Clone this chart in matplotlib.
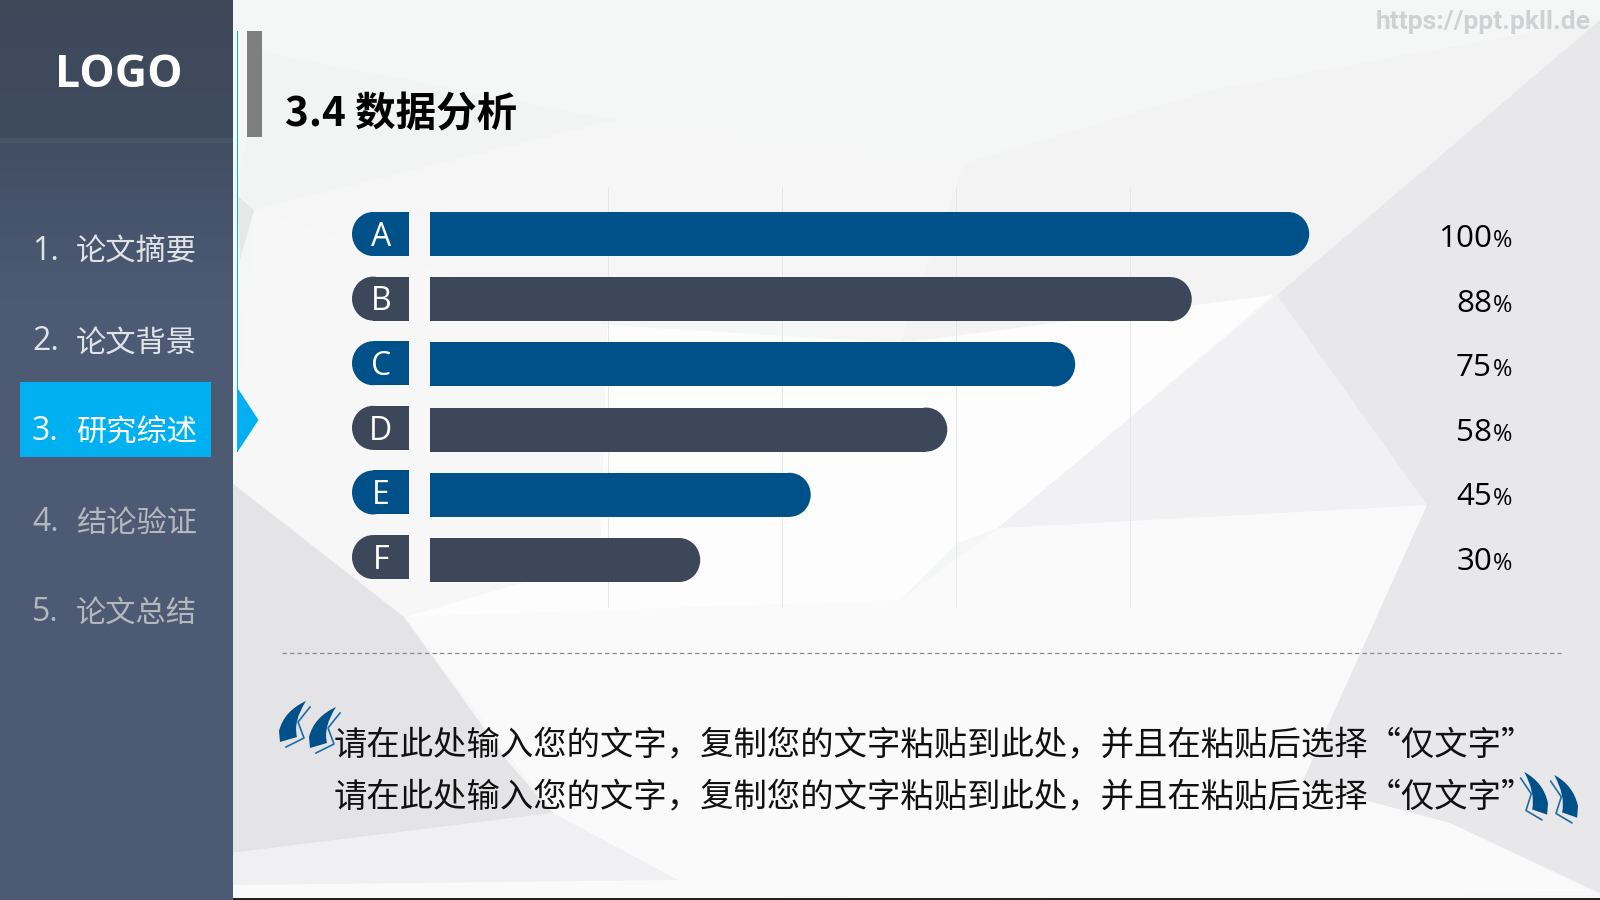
import numpy as np
import matplotlib
matplotlib.use('Agg')
import matplotlib.pyplot as plt
from matplotlib.patches import Ellipse, Polygon, Rectangle, PathPatch
from matplotlib.path import Path
from matplotlib.colors import LinearSegmentedColormap

plt.rcParams['font.family'] = ['Noto Sans CJK SC', 'DejaVu Sans']
LATIN = ['Open Sans', 'DejaVu Sans']

# ── DATA ────────────────────────────────────────────────────────────────
categories = ['A', 'B', 'C', 'D', 'E', 'F']
# printed labels, and the bar lengths as they are really drawn (they differ)
pct_labels = [100, 88, 75, 58, 45, 30]
bar_ends = [100.6, 87.1, 73.7, 59.0, 43.3, 30.6]
grid_ticks = [20, 40, 60, 80]

nav_numbers = ['1.', '2.', '3.', '4.', '5.']
nav_labels = ['论文摘要', '论文背景', '研究综述', '结论验证', '论文总结']
nav_colors = ['#dfe3e8', '#dfe3e8', '#ffffff', '#b4b8bc', '#b4b8bc']

title = '3.4 数据分析'
body_line = '请在此处输入您的文字，复制您的文字粘贴到此处，并且在粘贴后选择“仅文字”'

BLUE = '#005089'
DARK = '#3c4759'
CYAN = '#00b0f0'

fig = plt.figure(figsize=(16, 9), dpi=100, facecolor='#f5f6f6')

# ── BACKGROUND (pixel coordinates) ──────────────────────────────────────
bg = fig.add_axes([0, 0, 1, 1], zorder=0)
bg.axis('off')

facets = [
    ([(232, 0), (1600, 0), (1600, 900), (232, 900)], '#f5f6f6'),
    ([(263, 52), (616, 120), (254, 210), (237, 190)], '#f2f3f3'),
    ([(254, 210), (616, 120), (965, 163), (918, 340), (607, 325)], '#f6f6f7'),
    ([(965, 163), (1212, 90), (1600, 20), (1277, 295), (900, 343)], '#f3f3f4'),
    ([(607, 325), (900, 343), (1273, 295), (1092, 450), (998, 528), (958, 543),
      (900, 600), (607, 677), (404, 617), (600, 560)], '#fdfdfe'),
    ([(232, 483), (254, 210), (607, 325), (600, 560), (404, 617)], '#f7f7f8'),
    ([(404, 617), (900, 600), (998, 528), (1427, 505), (1302, 783), (1450, 823),
      (1600, 895), (232, 900), (232, 853), (553, 813)], '#fafafb'),
    ([(1277, 295), (1092, 450), (998, 528), (1427, 505)], '#f1f1f3'),
    ([(1600, 20), (1277, 295), (1427, 505), (1302, 783), (1450, 823), (1600, 893)], '#e8e8ea'),
    ([(232, 483), (404, 617), (509, 763), (553, 813), (232, 853)], '#e4e4e6'),
    ([(232, 853), (553, 813), (678, 880), (232, 885)], '#f0f0f2'),
    ([(237, 195), (254, 210), (240, 260)], '#e6e8e8'),
]
for pts, col in facets:
    bg.add_patch(Polygon(pts, closed=True, facecolor=col, edgecolor='none', zorder=1))

# sidebar gradients
side = LinearSegmentedColormap.from_list('side', ['#414e63', '#4c5a74'])
head = LinearSegmentedColormap.from_list('head', ['#3e4859', '#3f4b5f'])
ramp = np.linspace(0, 1, 100).reshape(-1, 1)
bg.imshow(ramp, extent=(0, 233, 300, 143), cmap=side, aspect='auto', zorder=2, origin='upper')
bg.add_patch(Rectangle((0, 300), 233, 600, facecolor='#4c5a74', edgecolor='none', zorder=2))
bg.imshow(ramp, extent=(0, 233, 138, 0), cmap=head, aspect='auto', zorder=2, origin='upper')
bg.add_patch(Rectangle((0, 138), 233, 5, facecolor='#48546a', edgecolor='none', zorder=3))
bg.set_xlim(0, 1600)
bg.set_ylim(900, 0)

bg.add_patch(Rectangle((20, 382), 191, 75, facecolor=CYAN, edgecolor='none', zorder=3))
bg.add_patch(Rectangle((237, 31), 1.2, 421, facecolor=CYAN, edgecolor='none', zorder=3))
bg.add_patch(Polygon([(237.5, 388), (258.5, 420), (237.5, 452)], facecolor=CYAN, edgecolor='none', zorder=3))
bg.add_patch(Rectangle((247, 31), 15, 106, facecolor='#7f7f7f', edgecolor='none', zorder=3))
bg.add_patch(Rectangle((233, 898), 1367, 2, facecolor='#222222', edgecolor='none', zorder=3))
bg.plot([282, 1561], [653, 653], color='#8a8a8a', lw=0.9, ls=(0, (3.5, 2.5)), zorder=3)

# ── BAR CHART ───────────────────────────────────────────────────────────
PX_PER_UNIT = 8.7
ZERO_PX = 434
ROW_PX = 65.2
ROW0_PX = 234
AX_L, AX_R, AX_T, AX_B = 345, 1400, 187, 608
BAR_H = 44 / ROW_PX
BAR_LEFT = (430 - ZERO_PX) / PX_PER_UNIT
R = 21 / PX_PER_UNIT

ax = fig.add_axes([AX_L / 1600, 1 - AX_B / 900, (AX_R - AX_L) / 1600, (AX_B - AX_T) / 900], zorder=2)
ax.patch.set_alpha(0)
ax.set_xlim((AX_L - ZERO_PX) / PX_PER_UNIT, (AX_R - ZERO_PX) / PX_PER_UNIT)
ax.set_ylim((AX_B - ROW0_PX) / ROW_PX, (AX_T - ROW0_PX) / ROW_PX)
ax.set_xticks(grid_ticks)
ax.set_yticks([])
ax.tick_params(length=0, labelbottom=False)
ax.grid(True, axis='x', color='#e6e7e9', lw=0.7)
ax.set_axisbelow(True)
for s in ax.spines.values():
    s.set_visible(False)

rows = np.arange(len(categories))
colors = [BLUE if i % 2 == 0 else DARK for i in rows]
ax.barh(rows, np.array(bar_ends) - R - BAR_LEFT, left=BAR_LEFT, height=BAR_H, color=colors, zorder=3)
for i, end in enumerate(bar_ends):
    ax.add_patch(Ellipse((end - R, i), 2 * R, BAR_H, facecolor=colors[i], edgecolor='none', zorder=3))

# letter pills sit a touch tighter than the bars
PILL_L = (352 - ZERO_PX) / PX_PER_UNIT
PILL_R = (409 - ZERO_PX) / PX_PER_UNIT
PILL_C = (381 - ZERO_PX) / PX_PER_UNIT
pill_rows = rows * 0.991
ax.barh(pill_rows, PILL_R - PILL_L - R, left=PILL_L + R, height=BAR_H, color=colors, zorder=3)
for i, cat in enumerate(categories):
    ax.add_patch(Ellipse((PILL_L + R, pill_rows[i]), 2 * R, BAR_H, facecolor=colors[i], edgecolor='none', zorder=3))
    ax.text(PILL_C, pill_rows[i] - 0.01, cat, color='white', fontsize=23, family=LATIN,
            ha='center', va='center_baseline', zorder=4)

# ── TEXT (pixel coordinates) ────────────────────────────────────────────
top = fig.add_axes([0, 0, 1, 1], zorder=3)
top.set_xlim(0, 1600)
top.set_ylim(900, 0)
top.axis('off')
top.patch.set_alpha(0)

top.text(119, 87, 'LOGO', color='white', fontsize=32, fontweight='bold', family=LATIN, ha='center', va='baseline')
top.text(285, 126, title, color='black', fontsize=29.2, fontweight='bold', va='baseline')
top.text(1591, 29, 'https://ppt.pkll.de', color='#cfd2d3', fontsize=19, fontweight='bold',
         family=['Roboto', 'DejaVu Sans'], ha='right', va='baseline')

for i, (n, lab, col) in enumerate(zip(nav_numbers, nav_labels, nav_colors)):
    base = 260 + i * 90.2
    top.text(32, base, n, color=col, fontsize=23, family=LATIN, va='baseline')
    top.text(76, base + 1, lab, color=col, fontsize=21.8, va='baseline')

for i, v in enumerate(pct_labels):
    base = 247 + i * 64.6
    top.text(1512, base, '%', color='black', fontsize=17, family=LATIN, ha='right', va='baseline')
    top.text(1492, base, str(v), color='black', fontsize=22.6, family=LATIN, ha='right', va='baseline')

for y in (754, 806):
    top.text(334, y, body_line, color='#111111', fontsize=24, va='baseline')


# quote marks, drawn from one outline
def quote(x0, y0, sx=1.0, sy=1.0):
    fill = [(27, 0), (5, 10), (0, 30), (1, 41), (18, 36), (14, 20), (27, 0), (27, 0)]
    codes = [Path.MOVETO, Path.CURVE3, Path.CURVE3, Path.LINETO, Path.LINETO, Path.CURVE3, Path.CURVE3, Path.CLOSEPOLY]
    verts = [(x0 + sx * a, y0 + sy * b) for a, b in fill]
    top.add_patch(PathPatch(Path(verts, codes), facecolor=BLUE, edgecolor='none'))
    stroke = [(31, 6), (19, 21), (25, 37), (7, 46)]
    top.plot([x0 + sx * a for a, b in stroke], [y0 + sy * b for a, b in stroke], color='#1f6ba6', lw=1.2)


quote(279, 701)
quote(309, 707)
quote(1548, 772, -0.88, 1.04)
quote(1578, 775, -0.88, 1.04)

fig.savefig('out.png', dpi=100)
